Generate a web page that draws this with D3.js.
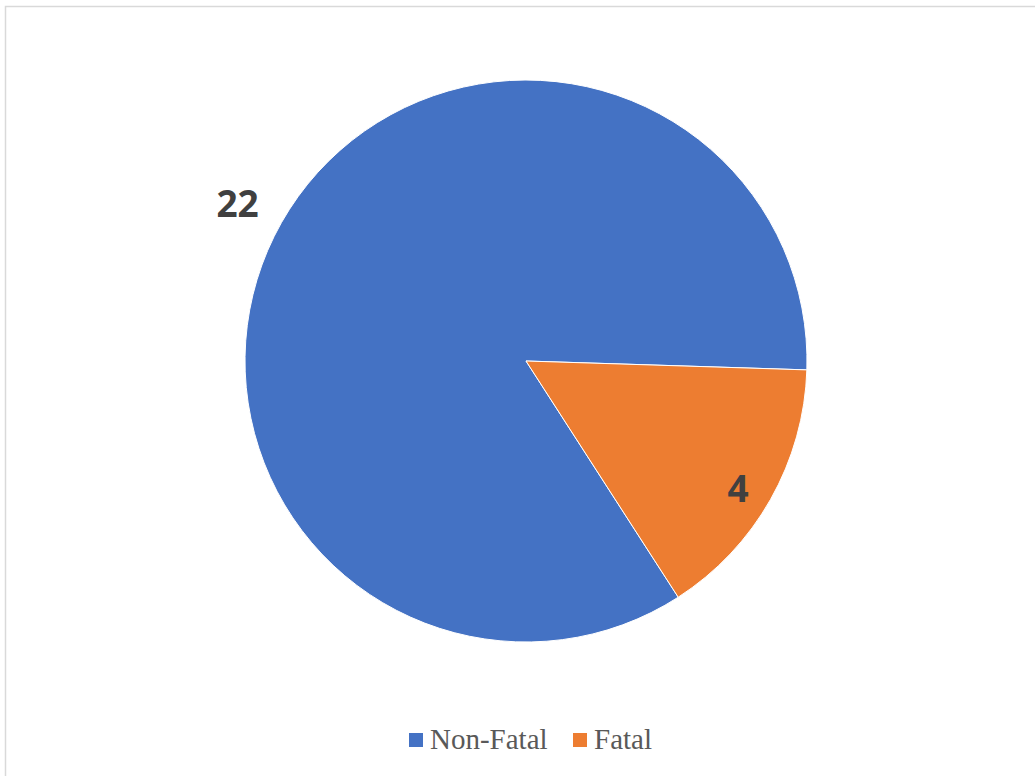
<!DOCTYPE html>
<html><head><meta charset="utf-8">
<script src="https://cdn.jsdelivr.net/npm/d3@7"></script>
<style>html,body{margin:0;padding:0;background:#fff;}svg{display:block;}</style>
</head><body>
<svg id="chart" width="1035" height="776"></svg>
<script>
const categories = ["Non-Fatal", "Fatal"];
const values = [22, 4];
const colors = ["#4472C4", "#ED7D31"];
const firstSliceAngleDeg = 147.2;

const svg = d3.select("#chart");
const W = 1035, H = 776;
svg.append("rect").attr("x", 5.5).attr("y", 6.5).attr("width", W + 10).attr("height", H + 10)
  .attr("fill", "#fff").attr("stroke", "#d9d9d9").attr("stroke-width", 1.5);

const cx = 526, cy = 361, r = 281;
const start = firstSliceAngleDeg * Math.PI / 180;
const pie = d3.pie().sort(null).value(d => d.v).startAngle(start).endAngle(start + 2 * Math.PI);
const data = categories.map((c, i) => ({ c, v: values[i], col: colors[i] }));
const arcs = pie(data);
const arc = d3.arc().innerRadius(0).outerRadius(r);
const g = svg.append("g").attr("transform", `translate(${cx},${cy})`);
g.selectAll("path").data(arcs).join("path")
  .attr("d", arc).attr("fill", d => d.data.col)
  .attr("stroke", "#fff").attr("stroke-width", 1);

const labelRadii = [328, 247];
const labelShift = [[-3, 3], [-3, 5]];
g.selectAll("text.lbl").data(arcs).join("text")
  .attr("class", "lbl")
  .attr("transform", (d, i) => {
    const a = (d.startAngle + d.endAngle) / 2;
    const rr = labelRadii[i];
    return `translate(${rr * Math.sin(a) + labelShift[i][0]},${-rr * Math.cos(a) + labelShift[i][1]})`;
  })
  .attr("text-anchor", "middle").attr("dominant-baseline", "central")
  .attr("font-family", "'Open Sans', sans-serif").attr("font-weight", "bold")
  .attr("font-size", 37).attr("fill", "#404040")
  .text(d => d.data.v);

const legendX = [409, 573];
const leg = svg.append("g");
data.forEach((d, i) => {
  leg.append("rect").attr("x", legendX[i]).attr("y", 733).attr("width", 14).attr("height", 14).attr("fill", d.col);
  leg.append("text").attr("x", legendX[i] + 21).attr("y", 749)
    .attr("font-family", "'Liberation Serif', 'Times New Roman', serif")
    .attr("font-size", 29).attr("fill", "#595959").text(d.c);
});
</script>
</body></html>
